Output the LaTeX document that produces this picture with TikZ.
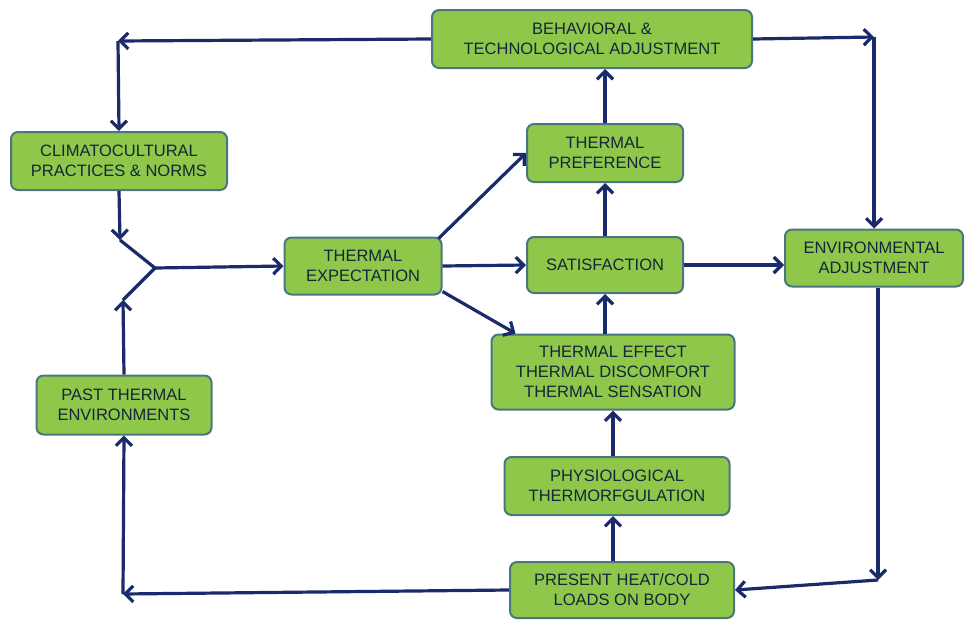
\documentclass[tikz,border=0pt]{standalone}
\usepackage{fontspec}
\setmainfont{Liberation Sans}
\usetikzlibrary{arrows.meta}
\definecolor{boxfill}{RGB}{143,199,74}
\definecolor{boxline}{RGB}{74,118,128}
\definecolor{linknavy}{RGB}{27,42,107}
\definecolor{textnavy}{RGB}{20,38,58}
\begin{document}
\begin{tikzpicture}[x=1pt,y=-1pt,
  box/.style={draw=boxline, line width=2pt, fill=boxfill, rounded corners=7pt,
    align=center, inner sep=0pt, text=textnavy,
    font=\fontsize{16.5}{20}\selectfont},
  link/.style={draw=linknavy, line width=3.2pt},
  arr/.style={link, -{Straight Barb[length=8pt,width=16pt]}}]
\useasboundingbox (0,0) rectangle (967,619);

% boxes
\node[box, minimum width=320pt, minimum height=58pt] (beh) at (592,39) {BEHAVIORAL \&\\TECHNOLOGICAL ADJUSTMENT};
\node[box, minimum width=216pt, minimum height=58pt] (clim) at (119,161) {CLIMATOCULTURAL\\PRACTICES \& NORMS};
\node[box, minimum width=157pt, minimum height=57pt] (exp) at (363,266) {THERMAL\\EXPECTATION};
\node[box, minimum width=156pt, minimum height=58pt] (pref) at (605,153) {THERMAL\\PREFERENCE};
\node[box, minimum width=156pt, minimum height=56pt] (sat) at (605,265) {SATISFACTION};
\node[box, minimum width=178pt, minimum height=57pt] (env) at (874,258) {ENVIRONMENTAL\\ADJUSTMENT};
\node[box, minimum width=243pt, minimum height=75pt] (eff) at (613,372) {THERMAL EFFECT\\THERMAL DISCOMFORT\\THERMAL SENSATION};
\node[box, minimum width=225pt, minimum height=58pt] (phys) at (617,486) {PHYSIOLOGICAL\\THERMORFGULATION};
\node[box, minimum width=224pt, minimum height=56pt] (pres) at (622,590) {PRESENT HEAT/COLD\\LOADS ON BODY};
\node[box, minimum width=175pt, minimum height=59pt] (past) at (124,405) {PAST THERMAL\\ENVIRONMENTS};

% corner and junction points of the outer loops
\coordinate (cTL) at (118,41);
\coordinate (cTR) at (874,37);
\coordinate (cBR) at (878,580);
\coordinate (cBL) at (123,594);
\coordinate (jA) at (120,240);
\coordinate (jB) at (123,300);
\coordinate (jn) at (155,268);

% outer loops
\draw[arr] (beh.west) -- (cTL);
\draw[arr] (cTL) -- (clim.north);
\draw[arr] (beh.east) -- (cTR);
\draw[arr] (cTR) -- (env.north);
\draw[arr] (env.south -| cBR) -- (cBR);
\draw[arr] (cBR) -- (pres.east);
\draw[arr] (pres.west) -- (cBL);
\draw[arr] (cBL) -- (past.south);

% merge into expectation
\draw[arr] (clim.south) -- (jA);
\draw[arr] (past.north) -- (jB);
\draw[link] (jA) -- (jn) -- (jB);
\draw[arr] (jn) -- (exp.west);

% expectation outputs
\draw[arr] ([xshift=-4pt,yshift=-2pt]exp.north east) -- (pref.west);
\draw[arr] (exp.east) -- (sat.west);
\draw[arr] ([yshift=4pt]exp.south east) -- ([xshift=25pt]eff.north west);

% central column
\draw[arr] (pres.north -| eff) -- (phys.south -| eff);
\draw[arr] (phys.north -| eff) -- (eff.south);
\draw[arr] (eff.north -| sat) -- (sat.south);
\draw[arr] (sat.north) -- (pref.south);
\draw[arr] (pref.north) -- (beh.south -| pref);
\draw[arr] (sat.east) -- (sat.east -| env.west);
\end{tikzpicture}
\end{document}
